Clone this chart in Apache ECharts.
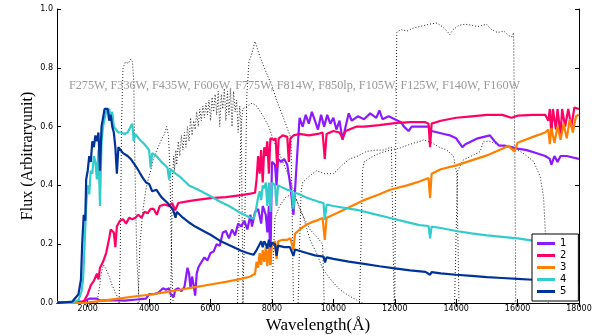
<!DOCTYPE html>
<html><head><meta charset="utf-8">
<script src="https://cdn.jsdelivr.net/npm/echarts@6/dist/echarts.min.js"></script>
<style>html,body{margin:0;padding:0;background:#fff}#c{width:602px;height:336px}</style>
</head><body><div id="c"></div>
<script>
// ---- tick labels ----
const xTicks = [2000,4000,6000,8000,10000,12000,14000,16000,18000];
const yTicks = [0,0.2,0.4,0.6,0.8,1.0];
const filterNote = "F275W, F336W, F435W, F606W, F775W, F814W, F850lp, F105W, F125W, F140W, F160W";
const seriesNames = ["1","2","3","4","5"];

// ---- spectra [wavelength, flux] ----
const s1 = [[1000,0.003],[1500,0.004],[1900,0.006],[2050,0.015],[2300,0.015],[2400,0.008],[2800,0.01],[3200,0.008],[3600,0.012],[3900,0.015],[4000,0.03],[4150,0.03],[4300,0.035],[4450,0.05],[4550,0.045],[4650,0.05],[4700,0.03],[4800,0.02],[4850,0.045],[4950,0.05],[5050,0.04],[5150,0.055],[5200,0.05],[5250,0.12],[5300,0.1],[5350,0.05],[5400,0.09],[5450,0.06],[5500,0.025],[5550,0.1],[5600,0.12],[5650,0.13],[5700,0.125],[5800,0.155],[5900,0.145],[6000,0.17],[6100,0.175],[6200,0.2],[6300,0.195],[6400,0.24],[6500,0.245],[6600,0.22],[6700,0.25],[6800,0.23],[6900,0.27],[7000,0.26],[7100,0.28],[7200,0.25],[7300,0.3],[7350,0.26],[7450,0.31],[7550,0.32],[7650,0.27],[7700,0.33],[7800,0.3],[7850,0.24],[7900,0.33],[7950,0.13],[8000,0.48],[8100,0.47],[8150,0.4],[8200,0.49],[8300,0.48],[8400,0.49],[8500,0.47],[8600,0.4],[8700,0.3],[8750,0.38],[8850,0.55],[8900,0.63],[9000,0.6],[9100,0.64],[9200,0.61],[9300,0.65],[9400,0.62],[9500,0.59],[9600,0.64],[9700,0.6],[9800,0.64],[9900,0.61],[10000,0.63],[10100,0.59],[10200,0.62],[10300,0.555],[10400,0.6],[10500,0.645],[10600,0.62],[10800,0.635],[11000,0.625],[11200,0.645],[11400,0.63],[11500,0.655],[11600,0.625],[11800,0.635],[12000,0.625],[12200,0.615],[12300,0.6],[12450,0.585],[12550,0.6],[12700,0.6],[12900,0.6],[13100,0.6],[13200,0.585],[13400,0.58],[13600,0.575],[13800,0.57],[14000,0.56],[14200,0.53],[14300,0.54],[14500,0.55],[14700,0.56],[14900,0.565],[15100,0.57],[15250,0.55],[15400,0.535],[15600,0.535],[15800,0.53],[16000,0.525],[16300,0.52],[16600,0.51],[16900,0.5],[17050,0.49],[17100,0.47],[17200,0.5],[17300,0.48],[17400,0.5],[17600,0.5],[17800,0.495],[18000,0.49]];
const s2 = [[1000,0.0],[1800,0.002],[1900,0.01],[2000,0.03],[2100,0.06],[2200,0.075],[2300,0.1],[2350,0.08],[2400,0.12],[2500,0.14],[2600,0.17],[2700,0.22],[2750,0.25],[2850,0.24],[2900,0.19],[2950,0.26],[3050,0.28],[3150,0.285],[3250,0.27],[3350,0.29],[3450,0.285],[3550,0.29],[3650,0.3],[3750,0.29],[3850,0.31],[3950,0.305],[4050,0.32],[4150,0.32],[4250,0.3],[4350,0.33],[4500,0.335],[4650,0.33],[4750,0.34],[4850,0.315],[4950,0.34],[5200,0.345],[5500,0.35],[6000,0.357],[6500,0.36],[7000,0.367],[7300,0.372],[7450,0.375],[7500,0.42],[7550,0.5],[7600,0.44],[7650,0.52],[7700,0.41],[7750,0.53],[7800,0.5],[7850,0.55],[7900,0.44],[7950,0.56],[8050,0.555],[8120,0.56],[8170,0.46],[8220,0.56],[8350,0.57],[8500,0.565],[8550,0.48],[8600,0.56],[8700,0.57],[8900,0.575],[9200,0.57],[9500,0.575],[9650,0.58],[9720,0.49],[9780,0.575],[10000,0.585],[10200,0.58],[10300,0.56],[10400,0.585],[10760,0.6],[11000,0.6],[11500,0.605],[12000,0.612],[12500,0.615],[13000,0.615],[13100,0.61],[13150,0.53],[13200,0.61],[13500,0.62],[14000,0.63],[14500,0.635],[15000,0.64],[15500,0.64],[15800,0.63],[16000,0.637],[16500,0.64],[16900,0.64],[17000,0.62],[17050,0.66],[17100,0.57],[17150,0.66],[17250,0.59],[17300,0.66],[17400,0.57],[17450,0.66],[17550,0.6],[17650,0.66],[17750,0.6],[17850,0.665],[18000,0.66]];
const s3 = [[1000,0],[1900,0.0],[2100,0.003],[2500,0.008],[3000,0.015],[3500,0.022],[4000,0.028],[4500,0.036],[5000,0.045],[5500,0.054],[6000,0.063],[6500,0.072],[7000,0.082],[7300,0.09],[7450,0.1],[7500,0.14],[7550,0.12],[7600,0.17],[7650,0.13],[7700,0.18],[7750,0.14],[7800,0.19],[7850,0.125],[7900,0.19],[7950,0.13],[8000,0.2],[8100,0.21],[8150,0.15],[8200,0.21],[8350,0.215],[8500,0.215],[8600,0.22],[8700,0.18],[8750,0.235],[8900,0.25],[9100,0.265],[9300,0.275],[9500,0.282],[9650,0.289],[9720,0.215],[9780,0.29],[10000,0.3],[10500,0.325],[11000,0.35],[11500,0.37],[11850,0.385],[12400,0.4],[12800,0.413],[13100,0.425],[13150,0.357],[13200,0.44],[13500,0.455],[14000,0.468],[14500,0.485],[15000,0.502],[15500,0.525],[15700,0.535],[15900,0.515],[16000,0.545],[16500,0.565],[16900,0.58],[17000,0.59],[17050,0.54],[17100,0.595],[17200,0.545],[17300,0.6],[17400,0.555],[17500,0.61],[17600,0.56],[17700,0.625],[17800,0.58],[17900,0.635],[18000,0.64]];
const s4 = [[1000,0],[1500,0.002],[1700,0.01],[1800,0.04],[1850,0.08],[1900,0.2],[1950,0.33],[2000,0.4],[2050,0.37],[2100,0.45],[2150,0.44],[2200,0.5],[2250,0.48],[2300,0.42],[2350,0.52],[2400,0.33],[2450,0.55],[2500,0.6],[2600,0.65],[2700,0.66],[2750,0.63],[2800,0.65],[2850,0.6],[2900,0.6],[3000,0.58],[3100,0.58],[3200,0.575],[3300,0.58],[3400,0.6],[3450,0.61],[3500,0.55],[3550,0.575],[3700,0.555],[3850,0.54],[4000,0.52],[4050,0.46],[4100,0.51],[4240,0.5],[4400,0.48],[4500,0.47],[4600,0.46],[4650,0.42],[4700,0.455],[4860,0.44],[5000,0.43],[5150,0.415],[5300,0.4],[5600,0.385],[6000,0.363],[6300,0.345],[6600,0.33],[7000,0.305],[7300,0.29],[7400,0.288],[7450,0.3],[7500,0.33],[7550,0.36],[7600,0.38],[7650,0.35],[7700,0.4],[7750,0.39],[7800,0.41],[7850,0.33],[7900,0.41],[7950,0.31],[8000,0.41],[8100,0.4],[8150,0.33],[8200,0.4],[8300,0.395],[8500,0.385],[8650,0.38],[8700,0.32],[8750,0.375],[8900,0.37],[9100,0.36],[9300,0.352],[9500,0.345],[9680,0.34],[9720,0.283],[9780,0.335],[10000,0.33],[10760,0.317],[11300,0.303],[11850,0.289],[12400,0.275],[12800,0.265],[13100,0.262],[13150,0.22],[13200,0.26],[13500,0.255],[14000,0.245],[14500,0.237],[15000,0.23],[15500,0.225],[16000,0.22],[16500,0.212],[17000,0.207],[17500,0.202],[18000,0.198]];
const s5 = [[1000,0.0],[1500,0.005],[1700,0.03],[1780,0.08],[1820,0.2],[1870,0.3],[1920,0.28],[1950,0.42],[2000,0.45],[2050,0.5],[2100,0.48],[2150,0.55],[2200,0.53],[2250,0.57],[2300,0.55],[2350,0.58],[2400,0.45],[2450,0.6],[2550,0.66],[2650,0.66],[2700,0.62],[2750,0.64],[2800,0.6],[2850,0.58],[2900,0.53],[2950,0.44],[3000,0.53],[3150,0.51],[3300,0.5],[3400,0.49],[3500,0.475],[3600,0.46],[3700,0.442],[3800,0.425],[3900,0.41],[4000,0.405],[4100,0.38],[4240,0.385],[4400,0.36],[4600,0.34],[4780,0.317],[4860,0.29],[4900,0.31],[5000,0.3],[5100,0.29],[5326,0.272],[5500,0.26],[5800,0.243],[6000,0.232],[6300,0.212],[6600,0.197],[7000,0.178],[7200,0.17],[7400,0.164],[7500,0.18],[7600,0.2],[7650,0.21],[7700,0.19],[7750,0.21],[7800,0.2],[7850,0.185],[7900,0.215],[7950,0.19],[8000,0.205],[8100,0.2],[8150,0.16],[8200,0.195],[8400,0.19],[8586,0.19],[8700,0.16],[8750,0.182],[9130,0.17],[9400,0.162],[9680,0.158],[9730,0.138],[9780,0.155],[10000,0.15],[10500,0.141],[11000,0.133],[11500,0.125],[12000,0.118],[12500,0.111],[13000,0.106],[13150,0.096],[13200,0.105],[13500,0.101],[14000,0.096],[14500,0.092],[15000,0.088],[15500,0.085],[16000,0.082],[16500,0.079],[17000,0.077],[17500,0.075],[18000,0.073]];

// ---- filter throughput curves [wavelength, throughput] ----
const fF275W = [[2300,0],[2380,0.05],[2440,0.1],[2510,0.13],[2600,0.115],[2700,0.09],[2800,0.06],[2900,0.035],[3000,0.015],[3060,0]];
const fF336W = [[3020,0],[3060,0.15],[3100,0.6],[3150,0.8],[3230,0.82],[3320,0.815],[3400,0.83],[3460,0.82],[3500,0.75],[3540,0.45],[3600,0.15],[3680,0]];
const fF435W = [[3640,0],[3700,0.2],[3800,0.317],[3900,0.39],[3970,0.42],[4050,0.45],[4130,0.487],[4250,0.52],[4400,0.555],[4500,0.575],[4570,0.6],[4630,0.57],[4680,0.45],[4730,0.15],[4780,0]];
const fF606W = [[4700,0],[4730,0.2],[4760,0.42],[4800,0.5],[4830,0.45],[4870,0.52],[4900,0.47],[4950,0.55],[5000,0.5],[5050,0.57],[5100,0.52],[5150,0.58],[5200,0.53],[5250,0.6],[5300,0.55],[5350,0.63],[5400,0.57],[5450,0.62],[5500,0.59],[5550,0.65],[5600,0.6],[5650,0.66],[5700,0.62],[5750,0.67],[5800,0.63],[5850,0.68],[5900,0.64],[5950,0.69],[6000,0.62],[6050,0.7],[6100,0.65],[6150,0.71],[6200,0.64],[6250,0.72],[6300,0.6],[6350,0.71],[6400,0.66],[6450,0.73],[6500,0.62],[6550,0.72],[6600,0.64],[6650,0.73],[6700,0.6],[6750,0.72],[6800,0.65],[6850,0.69],[6900,0.58],[6950,0.67],[7000,0.6],[7030,0.3],[7060,0]];
const fF775W = [[7050,0],[7120,0.3],[7180,0.7],[7250,0.82],[7350,0.85],[7450,0.89],[7600,0.84],[7830,0.78],[8000,0.74],[8150,0.69],[8300,0.65],[8480,0.6],[8620,0.56],[8660,0.3],[8700,0]];
const fF814W = [[6880,0],[6930,0.3],[6990,0.6],[7050,0.66],[7200,0.67],[7360,0.68],[7500,0.67],[7715,0.635],[7900,0.6],[8040,0.555],[8200,0.52],[8370,0.476],[8590,0.42],[8910,0.317],[9240,0.25],[9500,0.22],[9650,0.2],[9680,0.1],[9700,0]];
const fF850lp = [[8000,0],[8040,0.15],[8100,0.29],[8250,0.33],[8450,0.36],[8650,0.37],[8800,0.35],[9000,0.3],[9240,0.215],[9450,0.17],[9670,0.113],[9950,0.075],[10220,0.045],[10500,0.025],[10760,0.01],[10950,0]];
const fF105W = [[8850,0],[8900,0.2],[8950,0.38],[9000,0.41],[9200,0.43],[9450,0.45],[9700,0.44],[10000,0.44],[10300,0.47],[10530,0.49],[10800,0.5],[11090,0.516],[11400,0.52],[11620,0.52],[11890,0.53],[11930,0.3],[11980,0]];
const fF125W = [[10850,0],[10900,0.2],[10950,0.45],[11000,0.48],[11300,0.5],[11520,0.51],[11850,0.52],[12170,0.527],[12500,0.54],[12824,0.55],[12935,0.555],[13200,0.545],[13450,0.53],[13695,0.52],[13910,0.5],[14020,0.44],[14060,0.2],[14090,0]];
const fF140W = [[12000,0],[12030,0.5],[12065,0.92],[12200,0.93],[12400,0.925],[12600,0.935],[12800,0.94],[13000,0.945],[13200,0.95],[13370,0.952],[13550,0.94],[13700,0.925],[13790,0.913],[13900,0.93],[14100,0.945],[14300,0.948],[14500,0.945],[14700,0.94],[14990,0.948],[15150,0.93],[15350,0.92],[15550,0.925],[15700,0.91],[15810,0.905],[15870,0.92],[15910,0.5],[15940,0]];
const fF160W = [[13950,0],[14000,0.25],[14050,0.45],[14236,0.487],[14500,0.5],[14780,0.515],[14890,0.55],[15100,0.55],[15324,0.54],[15500,0.535],[15760,0.527],[15975,0.52],[16084,0.516],[16300,0.5],[16520,0.482],[16736,0.43],[16845,0.36],[16900,0.25],[16955,0.12],[17000,0]];
const filters = [fF275W,fF336W,fF435W,fF606W,fF775W,fF814W,fF850lp,fF105W,fF125W,fF140W,fF160W];

const colors = ['#8c1aff','#ff0066','#ff8000','#33cccc','#003399'];
const spectra = [s1,s2,s3,s4,s5];

const chart = echarts.init(document.getElementById('c'), null, {renderer:'canvas'});
const series = [];
filters.forEach((f,i)=>{
  series.push({type:'line', name:'filter'+i, data:f, symbol:'none', silent:true, xAxisIndex:0, yAxisIndex:0,
    lineStyle:{color:'#222', width:1, type:[1,2]}, z:1});
});
spectra.forEach((s,i)=>{
  series.push({type:'line', name:seriesNames[i], data:s, symbol:'none', xAxisIndex:0, yAxisIndex:0,
    lineStyle:{color:colors[i], width:2.2}, itemStyle:{color:colors[i]}, z:2});
});
const axLine = {show:true, lineStyle:{color:'#000', width:1}};
const tick = {show:true, inside:true, length:4, lineStyle:{color:'#000'}};
chart.setOption({
  animation:false,
  backgroundColor:'#fff',
  grid:{left:57, right:23, top:9, bottom:33, containLabel:false, outerBoundsMode:'none'},
  xAxis:[
    {type:'value', min:1000, max:18000, position:'bottom', axisLine:axLine,
     axisTick:Object.assign({}, tick, {customValues:xTicks}),
     axisLabel:{customValues:xTicks, fontSize:8, color:'#000', margin:2, fontFamily:'DejaVu Sans', formatter:v=>String(v)},
     splitLine:{show:false},
     name:'Wavelength(Å)', nameLocation:'middle', nameGap:14, nameMoveOverlap:false,
     nameTextStyle:{fontFamily:'Liberation Serif', fontSize:17, color:'#000'}},
    {type:'value', min:1000, max:18000, position:'top', axisLine:axLine,
     axisTick:Object.assign({}, tick, {customValues:xTicks}),
     axisLabel:{show:false}, splitLine:{show:false}}
  ],
  yAxis:[
    {type:'value', min:0, max:1, interval:0.2, position:'left', axisLine:axLine, axisTick:tick,
     axisLabel:{fontSize:8, color:'#000', margin:4, fontFamily:'DejaVu Sans', formatter:v=>v.toFixed(1)},
     splitLine:{show:false},
     name:'Flux (Arbitraryunit)', nameLocation:'middle', nameGap:21, nameMoveOverlap:false,
     nameTextStyle:{fontFamily:'Liberation Serif', fontSize:16, color:'#000'}},
    {type:'value', min:0, max:1, interval:0.2, position:'right', axisLine:axLine, axisTick:tick,
     axisLabel:{show:false}, splitLine:{show:false}}
  ],
  legend:{data:seriesNames, orient:'vertical', left:532, top:234, icon:'rect', itemWidth:18, itemHeight:3,
    itemGap:1, padding:[4,12,4,5], backgroundColor:'#fff', borderColor:'#000', borderWidth:1,
    textStyle:{fontSize:10, color:'#000', lineHeight:11, fontFamily:'DejaVu Sans'}},
  graphic:[{type:'text', left:69, top:80, z:10, silent:true,
    style:{text:filterNote, fill:'#999', font:'12.2px "Liberation Serif"'}}],
  series:series
});
</script></body></html>
